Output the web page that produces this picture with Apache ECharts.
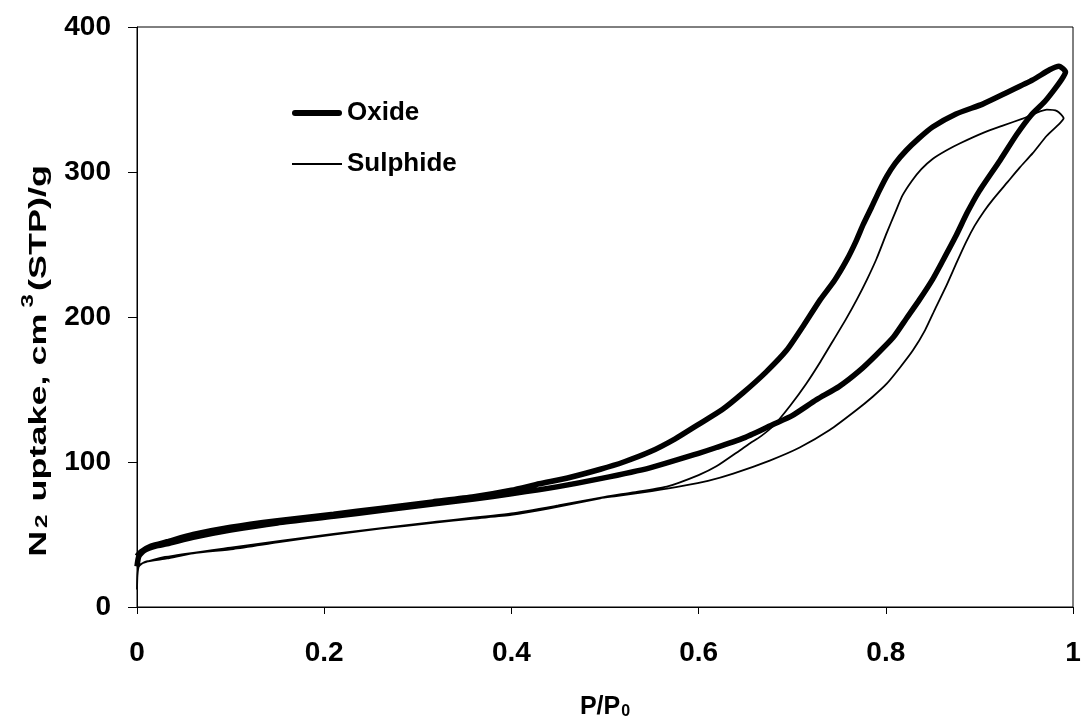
<!DOCTYPE html>
<html>
<head>
<meta charset="utf-8">
<script src="https://cdn.jsdelivr.net/npm/echarts@6/dist/echarts.min.js"></script>
<style>
html,body{margin:0;padding:0;background:#fff;}
#chart{width:1081px;height:721px;}
</style>
</head>
<body>
<div id="chart"></div>
<script>
// x ticks
const xTicks = [0, 0.2, 0.4, 0.6, 0.8, 1];
const yTicks = [0, 100, 200, 300, 400];
const seriesNames = ['Oxide', 'Sulphide'];

// Oxide: adsorption branch (P/P0, uptake)
const oxideAdsX = [0, 0.002, 0.008, 0.02, 0.032, 0.06, 0.1, 0.15, 0.21, 0.26, 0.316, 0.36, 0.4, 0.45, 0.495, 0.548, 0.6, 0.619, 0.65, 0.68, 0.7, 0.726, 0.75, 0.772, 0.79, 0.808, 0.822, 0.836, 0.85, 0.861, 0.875, 0.887, 0.9, 0.922, 0.94, 0.955, 0.969, 0.979, 0.988, 0.992, 0.985];
const oxideAdsY = [28, 35, 39, 42, 43.5, 48, 53, 58, 62.5, 66.5, 71, 74.5, 78, 83, 88.5, 96, 106, 110, 117, 126, 132, 143, 152, 163, 174, 186, 199, 212, 226, 239, 256, 272, 287, 308, 326, 339, 348, 356, 364, 369, 373];
// Oxide: desorption branch
const oxideDesX = [0.975, 0.957, 0.93, 0.904, 0.875, 0.85, 0.835, 0.822, 0.81, 0.801, 0.793, 0.785, 0.776, 0.768, 0.758, 0.745, 0.73, 0.712, 0.694, 0.672, 0.648, 0.625, 0.6, 0.575, 0.548, 0.52, 0.495, 0.46, 0.43, 0.4, 0.36, 0.316, 0.26, 0.21, 0.15, 0.1, 0.06, 0.032, 0.015, 0.004, 0];
const oxideDesY = [370.5, 363.5, 355, 347, 340, 331, 323, 315, 306, 297, 287, 276, 264, 252, 239, 225, 212, 194, 177, 162, 148, 136, 126, 116, 107, 100, 95, 89, 85, 80.5, 76, 72.5, 68, 64, 59.5, 55, 50, 45, 42, 38, 35];

// Sulphide: adsorption branch
const sulphAdsX = [0, 0.0005, 0.002, 0.008, 0.032, 0.06, 0.103, 0.15, 0.21, 0.26, 0.316, 0.36, 0.4, 0.441, 0.495, 0.512, 0.55, 0.583, 0.61, 0.637, 0.676, 0.708, 0.74, 0.769, 0.786, 0.801, 0.815, 0.829, 0.842, 0.853, 0.865, 0.876, 0.886, 0.895, 0.905, 0.915, 0.93, 0.943, 0.957, 0.972, 0.985, 0.99, 0.983];
const sulphAdsY = [12, 22, 28, 31, 33.5, 37, 40, 44.5, 50, 54, 58, 61, 63.5, 68, 75, 76.5, 80, 83.5, 87, 92, 101, 110, 122, 136, 145, 154, 165, 177, 191, 206, 222, 238, 252, 263, 273, 281.5, 293, 303, 313, 325, 333, 337, 342];
// Sulphide: desorption branch
const sulphDesX = [0.972, 0.947, 0.925, 0.904, 0.88, 0.865, 0.85, 0.838, 0.828, 0.818, 0.81, 0.801, 0.79, 0.78, 0.769, 0.757, 0.744, 0.73, 0.715, 0.698, 0.68, 0.666, 0.655, 0.644, 0.619, 0.6, 0.566, 0.53, 0.5, 0.45, 0.4, 0.316, 0.21, 0.1, 0.03, 0.005, 0];
const sulphDesY = [343, 337, 332, 327, 320, 315, 309, 302, 294, 284, 272, 258, 240, 226, 212, 198, 184, 169, 154, 139, 125, 117.5, 113, 108, 97, 91, 83, 79, 76, 70, 64.5, 58.5, 50.5, 41, 34.5, 30, 28];

function zip(xs, ys) { return xs.map((x, i) => [x, ys[i]]); }
const oxideData = zip(oxideAdsX, oxideAdsY).concat(zip(oxideDesX, oxideDesY));
const sulphData = zip(sulphAdsX, sulphAdsY).concat(zip(sulphDesX, sulphDesY));

const FONT = '"Liberation Sans", Arial, sans-serif';
const chart = echarts.init(document.getElementById('chart'), null, {renderer: 'canvas'});

chart.setOption({
  animation: false,
  backgroundColor: '#fff',
  grid: {
    left: 137, right: 8, top: 27, bottom: 114,
    show: true, borderColor: '#000', borderWidth: 1,
    containLabel: false, outerBoundsMode: 'none'
  },
  legend: {
    data: [
      {name: seriesNames[0], icon: 'path://M3,0 H47 A3,3 0 0 1 47,6 H3 A3,3 0 0 1 3,0 Z'},
      {name: seriesNames[1], icon: 'path://M0,0 H50 V2 H0 Z'}
    ],
    orient: 'vertical',
    left: 287, top: 95,
    itemWidth: 50, itemHeight: 20, itemGap: 25,
    symbolKeepAspect: true,
    itemStyle: {color: '#000'},
    textStyle: {fontFamily: FONT, fontWeight: 'bold', fontSize: 26, color: '#000'}
  },
  xAxis: {
    type: 'value', min: xTicks[0], max: xTicks[xTicks.length - 1], interval: 0.2,
    splitLine: {show: false},
    axisLine: {lineStyle: {color: '#000', width: 1}},
    axisTick: {inside: false, length: 7, lineStyle: {color: '#000'}},
    axisLabel: {margin: 32, fontFamily: FONT, fontWeight: 'bold', fontSize: 28, color: '#000'},
    name: '{a|P/P}{b|0}',
    nameLocation: 'middle', nameGap: 83,
    nameTextStyle: {
      rich: {
        a: {fontFamily: FONT, fontWeight: 'bold', fontSize: 25, color: '#000', lineHeight: 30, verticalAlign: 'bottom'},
        b: {fontFamily: FONT, fontWeight: 'bold', fontSize: 16, color: '#000', lineHeight: 12, verticalAlign: 'bottom', padding: [0, 0, 0, 1]}
      }
    }
  },
  yAxis: {
    type: 'value', min: yTicks[0], max: yTicks[yTicks.length - 1], interval: 100,
    splitLine: {show: false},
    axisLine: {show: true, lineStyle: {color: '#000', width: 1}},
    axisTick: {show: true, inside: false, length: 9, lineStyle: {color: '#000'}},
    axisLabel: {margin: 26, fontFamily: FONT, fontWeight: 'bold', fontSize: 28, color: '#000'}
  },
  graphic: [{
    type: 'text',
    x: 36, y: 361,
    rotation: Math.PI / 2,
    scaleX: 1.5,
    style: {
      text: '{a|N}{s|2}{a| uptake, cm}{p|3}{a|(STP)/g}',
      align: 'center', verticalAlign: 'middle',
      fill: '#000',
      rich: {
        a: {fontFamily: FONT, fontWeight: 'bold', fontSize: 24, fill: '#000', lineHeight: 30, verticalAlign: 'bottom'},
        s: {fontFamily: FONT, fontWeight: 'bold', fontSize: 16, fill: '#000', lineHeight: 12, verticalAlign: 'bottom', padding: [0, 2, 0, 2]},
        p: {fontFamily: FONT, fontWeight: 'bold', fontSize: 16, fill: '#000', lineHeight: 16, verticalAlign: 'top', padding: [0, 2, 0, 4]}
      }
    }
  }],
  series: [{
    name: seriesNames[0], type: 'line', data: oxideData,
    showSymbol: false, symbol: 'none', smooth: 0.2,
    lineStyle: {color: '#000', width: 5.5},
    itemStyle: {color: '#000'}
  }, {
    name: seriesNames[1], type: 'line', data: sulphData,
    showSymbol: false, symbol: 'none', smooth: 0.2,
    lineStyle: {color: '#000', width: 1.8},
    itemStyle: {color: '#000'}
  }]
});
</script>
</body>
</html>
